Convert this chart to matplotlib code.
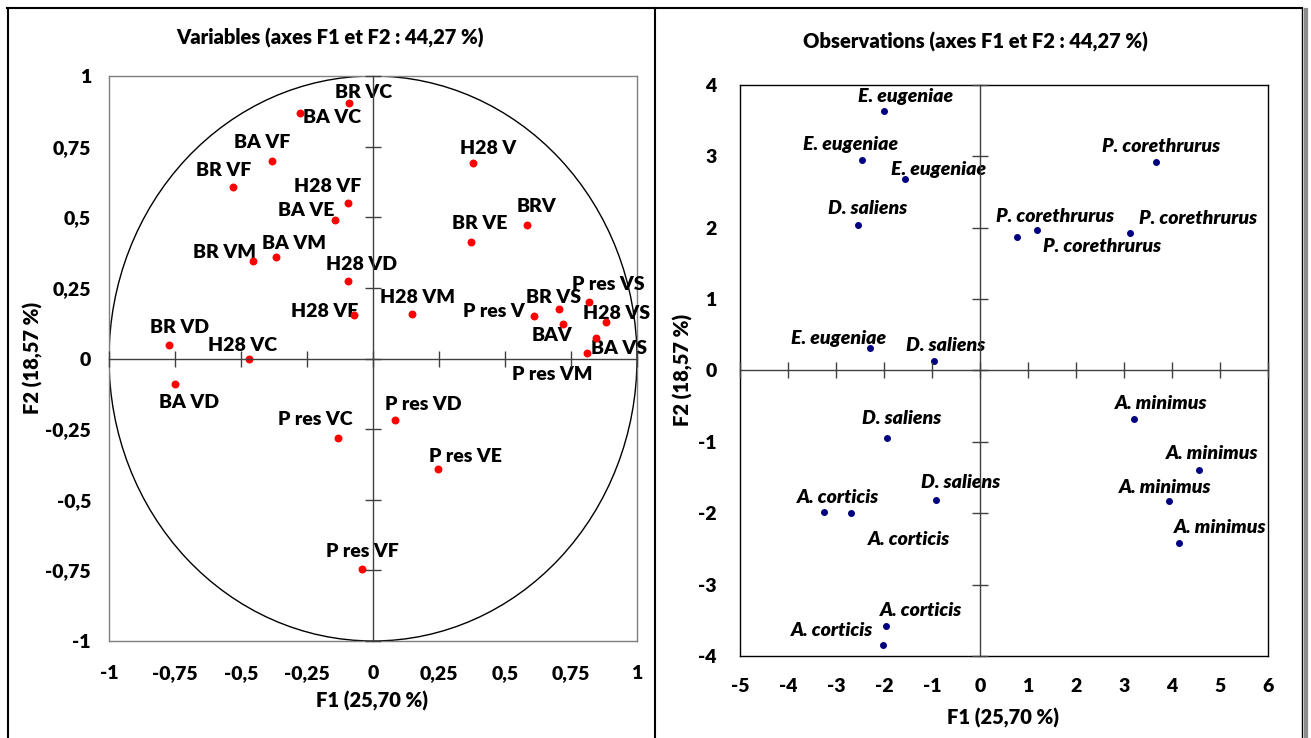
import matplotlib
matplotlib.use("Agg")
import matplotlib.pyplot as plt
from matplotlib.patches import Circle
from matplotlib.lines import Line2D

plt.rcParams["font.family"] = ["Lato", "DejaVu Sans"]
plt.rcParams["font.weight"] = "heavy"
plt.rcParams["axes.unicode_minus"] = False

# --- variables (correlation circle) ---
var_names = ["BR VC", "BA VC", "BA VF", "BR VF", "H28 VF", "BA VE", "BR VM", "BA VM",
             "H28 VD", "H28 V", "BRV", "BR VE", "P res VS", "H28 VE", "BR VD", "H28 VC",
             "BA VD", "P res VC", "H28 VM", "P res V", "BR VS", "BAV", "H28 VS", "BA VS",
             "P res VM", "P res VD", "P res VE", "P res VF"]
var_f1 = [-0.091, -0.275, -0.381, -0.529, -0.095, -0.145, -0.456, -0.367,
          -0.095, 0.378, 0.582, 0.372, 0.820, -0.071, -0.771, -0.470,
          -0.750, -0.134, 0.149, 0.610, 0.706, 0.720, 0.881, 0.843,
          0.809, 0.083, 0.247, -0.042]
var_f2 = [0.906, 0.868, 0.699, 0.606, 0.551, 0.490, 0.345, 0.358,
          0.275, 0.693, 0.474, 0.413, 0.200, 0.155, 0.047, 0.000,
          -0.092, -0.281, 0.156, 0.149, 0.174, 0.121, 0.129, 0.072,
          0.021, -0.218, -0.392, -0.744]
var_ticks = [-1, -0.75, -0.5, -0.25, 0, 0.25, 0.5, 0.75, 1]
var_ticklabels = ["-1", "-0,75", "-0,5", "-0,25", "0", "0,25", "0,5", "0,75", "1"]

# --- observations ---
obs_names = ["E. eugeniae", "E. eugeniae", "E. eugeniae", "D. saliens",
             "P. corethrurus", "P. corethrurus", "P. corethrurus", "P. corethrurus",
             "E. eugeniae", "D. saliens", "D. saliens", "D. saliens",
             "A. corticis", "A. corticis", "A. corticis", "A. corticis",
             "A. minimus", "A. minimus", "A. minimus", "A. minimus"]
obs_f1 = [-2.00, -2.46, -1.56, -2.54, 3.66, 0.78, 1.19, 3.13, -2.29, -0.95,
          -1.93, -0.92, -3.26, -2.68, -1.95, -2.03, 3.21, 4.56, 3.93, 4.15]
obs_f2 = [3.64, 2.95, 2.68, 2.04, 2.92, 1.87, 1.97, 1.92, 0.31, 0.13,
          -0.94, -1.81, -1.98, -1.99, -3.58, -3.85, -0.68, -1.39, -1.83, -2.42]
obs_xticks = list(range(-5, 7))
obs_yticks = list(range(-4, 5))

# label offsets in pixels (x right, y down)
var_offsets = [(15, -10), (32, 4), (-10, -19), (-10, -17), (-20, -16), (-29, -10),
               (-28, -9), (18, -14), (14, -16), (15, -14), (10, -18), (8, -18),
               (19, -18), (-30, -3), (10, -18), (-6, -13), (14, 18), (-22, -18),
               (5, -17), (-40, -5), (-6, -12), (-11, 11), (11, -9), (24, 10),
               (-34, 22), (28, -16), (27, -13), (0, -17)]
obs_offsets = [(22, -14), (-11, -15), (33, -10), (10, -16), (5, -16), (38, -21),
               (65, 17), (68, -15), (-32, -10), (11, -16), (14, -19), (25, -17),
               (15, -14), (58, 27), (35, -16), (-51, -15), (27, -16), (13, -16),
               (-3, -14), (41, -16)]

W, H = 1311, 738
fig = plt.figure(figsize=(W / 100, H / 100), dpi=100)


def fx(px):
    return px / W


def fy(py):
    return 1 - py / H


def cross_axes(ax, color):
    # axes lines through the origin with ticks crossing them
    axc = fig.add_axes(ax.get_position(), sharex=ax, sharey=ax)
    axc.patch.set_visible(False)
    for s in ("top", "right"):
        axc.spines[s].set_visible(False)
    for s in ("left", "bottom"):
        axc.spines[s].set_position(("data", 0))
        axc.spines[s].set_color(color)
        axc.spines[s].set_linewidth(1)
    axc.tick_params(direction="inout", length=11, width=1, color=color,
                    labelleft=False, labelbottom=False)
    return axc


# left panel
ax1 = fig.add_axes([fx(109), fy(641), fx(637) - fx(109), fy(76) - fy(641)])
ax1.set_xlim(-1, 1)
ax1.set_ylim(-1, 1)
ax1.set_xticks(var_ticks, var_ticklabels)
ax1.set_yticks(var_ticks, var_ticklabels)
ax1.tick_params(axis="x", length=0, labelsize=14, pad=17)
ax1.tick_params(axis="y", length=0, labelsize=14, pad=13)
for s in ax1.spines.values():
    s.set_color("#7f7f7f")
    s.set_linewidth(1)
ax1.add_patch(Circle((0, 0), 1, fill=False, color="black", lw=1))
cross_axes(ax1, "#404040")
ax1.scatter(var_f1, var_f2, s=22, color="#ff0000", zorder=5, clip_on=False)
for name, x, y, (dx, dy) in zip(var_names, var_f1, var_f2, var_offsets):
    ax1.annotate(name, (x, y), xytext=(dx, -dy), textcoords="offset pixels",
                 ha="center", va="center", fontsize=14, fontweight="heavy")

# right panel
ax2 = fig.add_axes([fx(740), fy(656), fx(1268) - fx(740), fy(85) - fy(656)])
ax2.set_xlim(-5, 6)
ax2.set_ylim(-4, 4)
ax2.set_xticks(obs_xticks)
ax2.set_yticks(obs_yticks)
ax2.tick_params(axis="x", length=0, labelsize=14, pad=16)
ax2.tick_params(axis="y", length=0, labelsize=14, pad=17)
for s in ax2.spines.values():
    s.set_color("black")
    s.set_linewidth(1)
cross_axes(ax2, "#404040")
ax2.scatter(obs_f1, obs_f2, s=16, color="#00007f", zorder=5)
for name, x, y, (dx, dy) in zip(obs_names, obs_f1, obs_f2, obs_offsets):
    ax2.annotate(name, (x, y), xytext=(dx, -dy), textcoords="offset pixels",
                 ha="center", va="center", fontsize=14, fontweight="heavy",
                 fontstyle="italic")

# titles and axis labels
fig.text(fx(330), fy(38), "Variables (axes F1 et F2 : 44,27 %)", ha="center",
         va="center", fontsize=14.5, fontweight="heavy")
fig.text(fx(975), fy(42), "Observations (axes F1 et F2 : 44,27 %)", ha="center",
         va="center", fontsize=14.5, fontweight="heavy")
fig.text(fx(372), fy(701), "F1 (25,70 %)", ha="center", va="center",
         fontsize=14.5, fontweight="heavy")
fig.text(fx(1003), fy(718), "F1 (25,70 %)", ha="center", va="center",
         fontsize=14.5, fontweight="heavy")
fig.text(fx(33), fy(358), "F2 (18,57 %)", ha="center", va="center",
         rotation=90, fontsize=14.5, fontweight="heavy")
fig.text(fx(683), fy(370), "F2 (18,57 %)", ha="center", va="center",
         rotation=90, fontsize=14.5, fontweight="heavy")

# panel borders
for xs, ys, c, lw in [((7, 1302), (8, 8), "black", 1.5),
                      ((8, 8), (8, 738), "black", 1.5),
                      ((655, 655), (8, 738), "black", 1.5),
                      ((1302, 1302), (8, 738), "black", 1),
                      ((1306, 1306), (10, 738), "#8c8c8c", 3)]:
    fig.add_artist(Line2D([fx(xs[0]), fx(xs[1])], [fy(ys[0]), fy(ys[1])],
                          color=c, lw=lw))

fig.savefig("out.png", dpi=100)
